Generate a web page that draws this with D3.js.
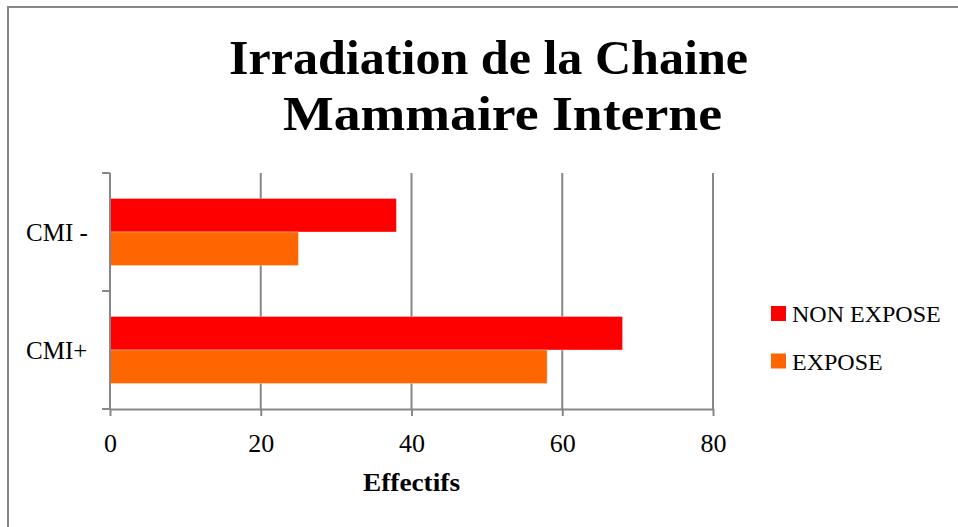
<!DOCTYPE html>
<html>
<head>
<meta charset="utf-8">
<script src="https://cdn.jsdelivr.net/npm/d3@7"></script>
<style>
  body { margin: 0; background: #fff; }
  text { font-family: "Liberation Serif", "DejaVu Serif", serif; fill: #000; }
</style>
</head>
<body>
<svg id="chart" width="958" height="527"></svg>
<script>
// data
var categories = ["CMI -", "CMI+"];
var seriesNames = ["NON EXPOSE", "EXPOSE"];
var nonExpose = [38, 68];
var expose = [25, 58];
var xTicks = [0, 20, 40, 60, 80];
var titleLines = ["Irradiation de la Chaine", "Mammaire Interne"];
var xTitle = "Effectifs";

var colors = { "NON EXPOSE": "#ff0000", "EXPOSE": "#ff6600" };
var gridColor = "#878787";

var svg = d3.select("#chart");

// outer frame (right and bottom sides fall outside the picture)
svg.append("rect")
  .attr("x", 8).attr("y", 7)
  .attr("width", 980).attr("height", 560)
  .attr("fill", "none")
  .attr("stroke", gridColor)
  .attr("stroke-width", 2);

var plot = { left: 110, right: 713, top: 173, bottom: 409 };

var x = d3.scaleLinear().domain([0, 80]).range([plot.left, plot.right]);
var y0 = d3.scaleBand().domain(categories).range([plot.top, plot.bottom]);
var y1 = d3.scaleBand().domain(seriesNames).range([0, y0.bandwidth()]).paddingOuter(0.76);

var rows = categories.map(function (c, i) {
  return { cat: c, values: [
    { name: "NON EXPOSE", value: nonExpose[i] },
    { name: "EXPOSE", value: expose[i] }
  ]};
});

// vertical gridlines
svg.append("g").selectAll("line")
  .data(xTicks.filter(function (t) { return t > 0; }))
  .enter().append("line")
  .attr("x1", function (d) { return x(d); })
  .attr("x2", function (d) { return x(d); })
  .attr("y1", plot.top).attr("y2", plot.bottom)
  .attr("stroke", gridColor).attr("stroke-width", 2);

// bars
var groups = svg.append("g").selectAll("g")
  .data(rows).enter().append("g")
  .attr("transform", function (d) { return "translate(0," + y0(d.cat) + ")"; });

groups.selectAll("rect")
  .data(function (d) { return d.values; })
  .enter().append("rect")
  .attr("x", x(0))
  .attr("y", function (d) { return y1(d.name); })
  .attr("width", function (d) { return x(d.value) - x(0); })
  .attr("height", y1.bandwidth())
  .attr("fill", function (d) { return colors[d.name]; })
  .attr("stroke", "#ffffff").attr("stroke-opacity", 0.35).attr("stroke-width", 1);

// x axis
var xAxis = d3.axisBottom(x).tickValues(xTicks).tickSize(7).tickSizeOuter(0).tickPadding(14);
var gx = svg.append("g")
  .attr("transform", "translate(0," + plot.bottom + ")")
  .call(xAxis);
gx.select(".domain").attr("stroke", gridColor).attr("stroke-width", 2);
gx.selectAll(".tick line").attr("stroke", gridColor).attr("stroke-width", 2);
gx.selectAll(".tick text")
  .attr("font-family", "Liberation Serif").attr("font-size", 26)
  .attr("dy", null).attr("y", 43);

// y axis: ticks on category boundaries
var yBounds = [plot.top, y0(categories[1]), plot.bottom];
svg.append("line")
  .attr("x1", plot.left).attr("x2", plot.left)
  .attr("y1", plot.top).attr("y2", plot.bottom)
  .attr("stroke", gridColor).attr("stroke-width", 2);
svg.append("g").selectAll("line")
  .data(yBounds).enter().append("line")
  .attr("x1", plot.left - 8).attr("x2", plot.left)
  .attr("y1", function (d) { return d; }).attr("y2", function (d) { return d; })
  .attr("stroke", gridColor).attr("stroke-width", 2);

svg.append("g").selectAll("text")
  .data(categories).enter().append("text")
  .attr("x", 26)
  .attr("y", function (d) { return y0(d) + y0.bandwidth() / 2 + 9; })
  .attr("font-size", 25)
  .text(function (d) { return d; });

// axis title
svg.append("text")
  .attr("x", (plot.left + plot.right) / 2).attr("y", 491)
  .attr("text-anchor", "middle")
  .attr("font-size", 25).attr("font-weight", "bold")
  .attr("textLength", 97).attr("lengthAdjust", "spacingAndGlyphs")
  .text(xTitle);

// title, each line stretched to the width it has in the picture
var titleSpans = [[229, 748], [283, 722]];
svg.append("g").selectAll("text")
  .data(titleLines).enter().append("text")
  .attr("x", function (d, i) { return titleSpans[i][0]; })
  .attr("y", function (d, i) { return 74 + i * 56; })
  .attr("font-size", 48).attr("font-weight", "bold")
  .attr("textLength", function (d, i) { return titleSpans[i][1] - titleSpans[i][0]; })
  .attr("lengthAdjust", "spacingAndGlyphs")
  .text(function (d) { return d; });

// legend
var legend = svg.append("g").selectAll("g")
  .data(seriesNames).enter().append("g")
  .attr("transform", function (d, i) { return "translate(771," + (306 + i * 47.5) + ")"; });
legend.append("rect")
  .attr("width", 15).attr("height", 15)
  .attr("fill", function (d) { return colors[d]; });
legend.append("text")
  .attr("x", 21).attr("y", 16)
  .attr("font-size", 24)
  .text(function (d) { return d; });
</script>
</body>
</html>
